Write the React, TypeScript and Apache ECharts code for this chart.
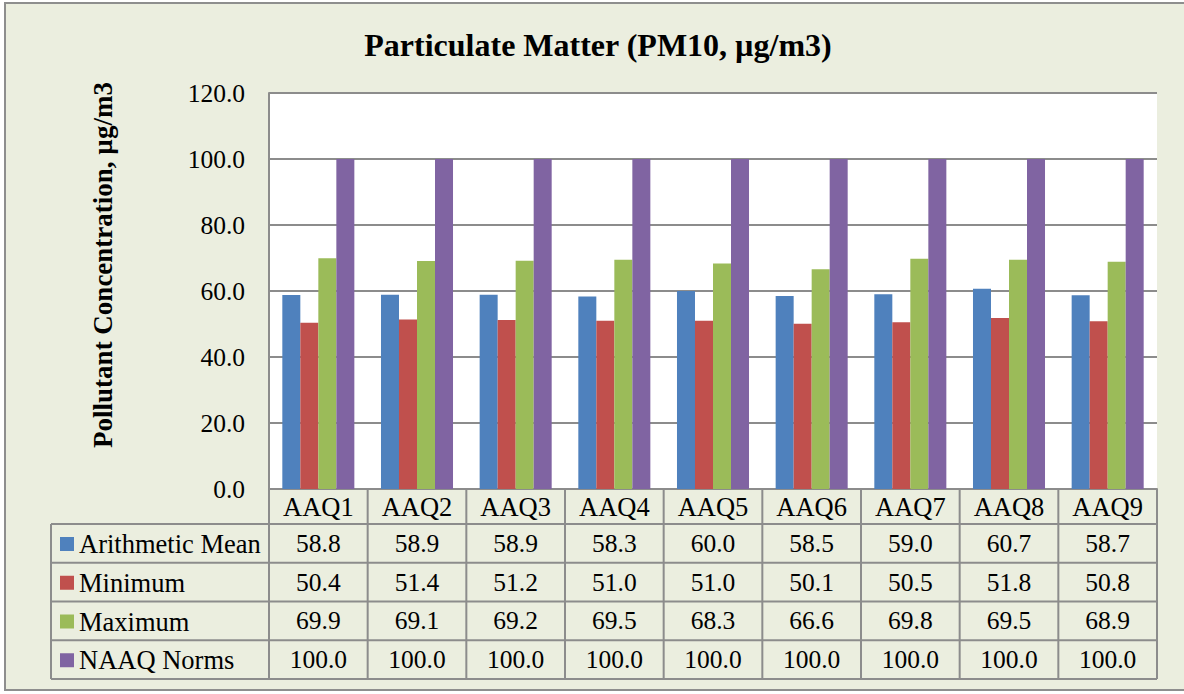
import React, { useEffect, useRef } from "react";
import * as echarts from "echarts";

const categories = ["AAQ1", "AAQ2", "AAQ3", "AAQ4", "AAQ5", "AAQ6", "AAQ7", "AAQ8", "AAQ9"];
const seriesNames = ["Arithmetic Mean", "Minimum", "Maximum", "NAAQ Norms"];
const arithmeticMean = [58.8, 58.9, 58.9, 58.3, 60.0, 58.5, 59.0, 60.7, 58.7];
const minimum = [50.4, 51.4, 51.2, 51.0, 51.0, 50.1, 50.5, 51.8, 50.8];
const maximum = [69.9, 69.1, 69.2, 69.5, 68.3, 66.6, 69.8, 69.5, 68.9];
const naaqNorms = [100.0, 100.0, 100.0, 100.0, 100.0, 100.0, 100.0, 100.0, 100.0];
const seriesValues = [arithmeticMean, minimum, maximum, naaqNorms];
const colors = ["#4F81BD", "#C0504D", "#9BBB59", "#8064A2"];

const FONT = "Liberation Serif";
const FS = 25.5;
const FS_WORD = 26.5;
const BG = "#EBEEDF";
const LINE = "#8C8C8C";

// layout
const GRID_L = 269;
const GRID_T = 93;
const GRID_R = 1157;
const GRID_B = 489;
const HEADER_B = 524;
const ROW_H = 38.75;
const TABLE_L = 51;

export default function App() {
  const ref = useRef<HTMLDivElement>(null);
  useEffect(() => {
    if (!ref.current) return;
    const chart = echarts.init(ref.current, undefined, { renderer: "svg" });
    const colW = (GRID_R - GRID_L) / categories.length;
    const tableB = HEADER_B + ROW_H * seriesNames.length;

    const graphics: any[] = [];
    graphics.push({
      type: "rect",
      z: -10,
      shape: { x: 5, y: 3, width: 1184, height: 687 },
      style: { fill: BG, stroke: "#8E8E8E", lineWidth: 2 },
      silent: true,
    });
    for (let i = 0; i <= seriesNames.length; i++) {
      const y = HEADER_B + i * ROW_H;
      graphics.push({
        type: "line",
        shape: { x1: TABLE_L, y1: y, x2: GRID_R, y2: y },
        style: { stroke: LINE, lineWidth: 2 },
        silent: true,
      });
    }
    for (let k = 0; k <= categories.length; k++) {
      const x = GRID_L + k * colW;
      graphics.push({
        type: "line",
        shape: { x1: x, y1: GRID_B, x2: x, y2: tableB },
        style: { stroke: LINE, lineWidth: 2 },
        silent: true,
      });
    }
    graphics.push({
      type: "line",
      shape: { x1: TABLE_L, y1: HEADER_B, x2: TABLE_L, y2: tableB },
      style: { stroke: LINE, lineWidth: 2 },
      silent: true,
    });

    const labelStyle = {
      fontFamily: FONT,
      fontSize: FS,
      color: "#000",
      lineHeight: 28,
    };

    // extra category axes act as the data-table rows
    const tableAxes = seriesValues.map((vals, i) => ({
      type: "category",
      data: categories,
      position: "bottom",
      offset: HEADER_B - GRID_B + i * ROW_H,
      axisLine: { show: false },
      axisTick: { show: false },
      splitLine: { show: false },
      axisLabel: {
        ...labelStyle,
        margin: (ROW_H - 28) / 2,
        formatter: (_v: string, idx: number) => vals[idx].toFixed(1),
      },
    }));

    chart.setOption({
      animation: false,
      backgroundColor: "transparent",
      color: colors,
      textStyle: { fontFamily: FONT, fontSize: FS, color: "#000" },
      title: {
        text: "Particulate Matter (PM10, µg/m3)",
        left: 593,
        top: 24,
        textAlign: "center",
        textStyle: { fontFamily: FONT, fontSize: 32, fontWeight: "bold", color: "#000" },
      },
      legend: {
        orient: "vertical",
        left: 60,
        top: 529,
        padding: 0,
        itemWidth: 14,
        itemHeight: 14,
        itemGap: ROW_H - 30,
        icon: "rect",
        data: seriesNames,
        formatter: "{n|{name}}",
        textStyle: {
          fontFamily: FONT,
          fontSize: FS_WORD,
          color: "#000",
          lineHeight: 30,
          rich: { n: { fontFamily: FONT, fontSize: FS_WORD, color: "#000", lineHeight: 30 } },
        },
      },
      grid: {
        left: GRID_L,
        top: GRID_T,
        width: GRID_R - GRID_L,
        height: GRID_B - GRID_T,
        backgroundColor: "#FFFFFF",
        show: true,
        borderWidth: 0,
      },
      xAxis: [
        {
          type: "category",
          data: categories,
          axisLine: { show: true, lineStyle: { color: LINE, width: 2 } },
          axisTick: { show: false },
          axisLabel: { ...labelStyle, fontSize: FS_WORD, margin: 4 },
        },
        ...tableAxes,
      ],
      yAxis: {
        type: "value",
        min: 0,
        max: 120,
        interval: 20,
        name: "Pollutant Concentration, µg/m3",
        nameLocation: "middle",
        nameRotate: 90,
        nameGap: 153,
        nameTextStyle: {
          fontFamily: FONT,
          fontSize: 27,
          fontWeight: "bold",
          color: "#000",
          padding: [0, 0, 0, 52],
        },
        axisLine: { show: true, lineStyle: { color: LINE, width: 2 } },
        axisTick: { show: false },
        splitLine: { show: true, lineStyle: { color: LINE, width: 2 } },
        axisLabel: {
          fontFamily: FONT,
          fontSize: FS,
          color: "#000",
          margin: 24,
          formatter: (v: number) => v.toFixed(1),
        },
      },
      series: seriesNames.map((name, i) => ({
        name,
        type: "bar",
        xAxisIndex: 0,
        data: seriesValues[i],
        barGap: "0%",
        barCategoryGap: "27%",
        itemStyle: { color: colors[i] },
      })),
      graphic: graphics,
    });
    return () => chart.dispose();
  }, []);
  return (
    <div
      ref={ref}
      style={{ position: "fixed", left: 0, top: 0, width: 1184, height: 694, background: "#FFFFFF" }}
    />
  );
}
